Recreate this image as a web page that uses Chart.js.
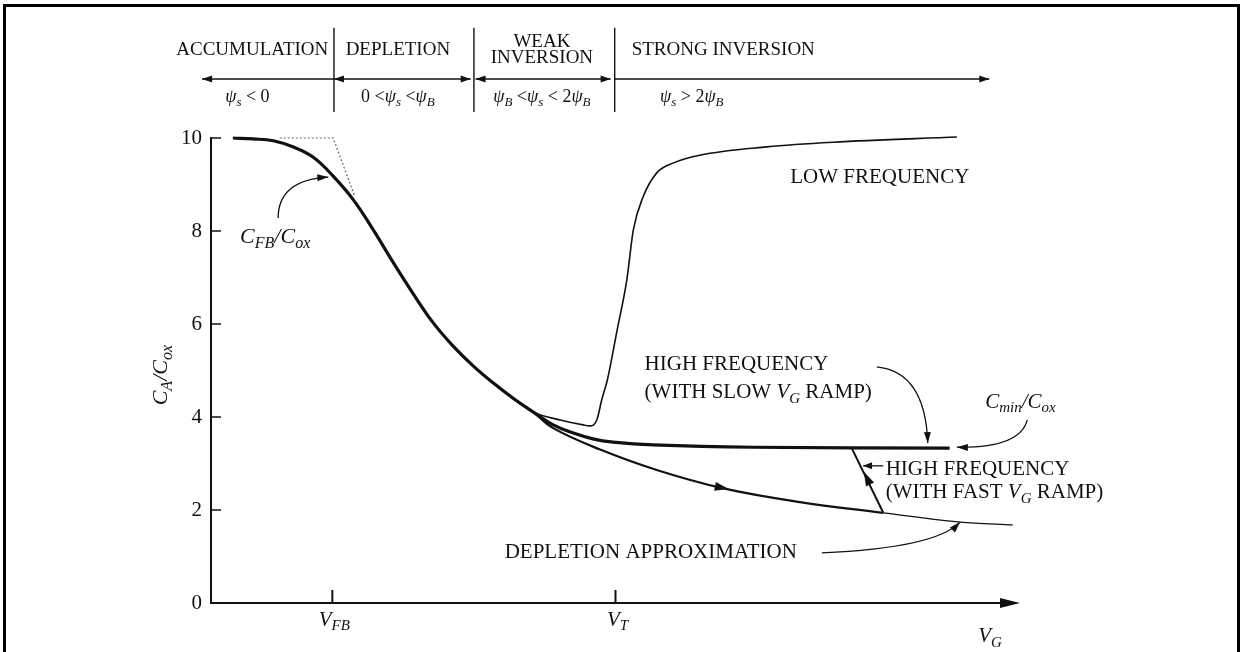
<!DOCTYPE html>
<html>
<head>
<meta charset="utf-8">
<script src="https://cdn.jsdelivr.net/npm/chart.js@4"></script>
<style>
  body { margin: 0; background: #fff; }
  #frame { position: absolute; left: 3px; top: 4px; width: 1237px; height: 700px; border: 3px solid #000; border-bottom: none; box-sizing: border-box; }
  canvas { position: absolute; left: 0; top: 0; }
</style>
</head>
<body>
<div id="frame"></div>
<canvas id="cv" width="1242" height="652"></canvas>
<script>
// Curve values (x in arbitrary V_G units, y = C/Cox)
const mainX = [0.27, 0.52, 0.77, 1.01, 1.26, 1.51, 1.76, 2.0, 2.25, 2.5, 2.74, 2.99, 3.24, 3.49, 3.73, 3.98, 4.23, 4.47, 4.72, 4.97, 5.46, 6.7, 9.13];
const mainY = [10.0, 9.98, 9.94, 9.81, 9.59, 9.18, 8.67, 8.04, 7.33, 6.65, 6.04, 5.53, 5.10, 4.73, 4.41, 4.11, 3.83, 3.66, 3.53, 3.46, 3.40, 3.35, 3.33];
const lowX = [3.49, 3.73, 3.98, 4.33, 4.60, 4.68, 4.77, 4.83, 4.90, 5.02, 5.14, 5.22, 5.34, 5.51, 5.71, 6.04, 6.87, 7.69, 9.22];
const lowY = [4.73, 4.41, 4.11, 3.93, 3.83, 3.81, 3.94, 4.37, 4.80, 5.87, 6.95, 8.02, 8.73, 9.25, 9.46, 9.63, 9.81, 9.91, 10.02];
const deepX = [3.49, 3.73, 3.98, 4.23, 4.81, 5.51, 6.32, 7.28, 8.31];
const deepY = [4.73, 4.41, 4.11, 3.76, 3.30, 2.86, 2.47, 2.17, 1.94];
const approxX = [8.31, 9.26, 9.91];
const approxY = [1.94, 1.74, 1.68];
const flatX = [0.85, 1.51, 1.78];
const flatY = [10.0, 10.0, 8.73];
const fastX = [7.92, 8.31];
const fastY = [3.33, 1.94];
const yTicks = [0, 2, 4, 6, 8, 10];
const vFB = 1.5, vT = 5.0;
const regionEdges = [1.52, 3.25, 4.99];

const zip = (xs, ys) => xs.map((x, i) => ({ x: x, y: ys[i] }));
const INK = '#111';
const SERIF = '"Liberation Serif", "DejaVu Serif", serif';

// text with italic / subscript parts
function rich(ctx, parts, x, y, size, align) {
  const fontFor = k => (k[0] === 'i' ? 'italic ' : '') + (k.endsWith('sub') ? Math.round(size * 0.72) : size) + 'px ' + SERIF;
  let w = 0;
  parts.forEach(p => { ctx.font = fontFor(p[1]); w += ctx.measureText(p[0]).width; });
  let cx = align === 'center' ? x - w / 2 : (align === 'right' ? x - w : x);
  ctx.textAlign = 'left';
  ctx.textBaseline = 'middle';
  parts.forEach(p => {
    ctx.font = fontFor(p[1]);
    ctx.fillText(p[0], cx, y + (p[1].endsWith('sub') ? size * 0.3 : 0));
    cx += ctx.measureText(p[0]).width;
  });
}

function head(ctx, x, y, ang, len, half) {
  ctx.beginPath();
  ctx.moveTo(x, y);
  ctx.lineTo(x - len * Math.cos(ang) + half * Math.sin(ang), y - len * Math.sin(ang) - half * Math.cos(ang));
  ctx.lineTo(x - len * Math.cos(ang) - half * Math.sin(ang), y - len * Math.sin(ang) + half * Math.cos(ang));
  ctx.closePath();
  ctx.fill();
}

const decor = {
  id: 'decor',
  afterDraw(chart) {
    const ctx = chart.ctx, xs = chart.scales.x, ys = chart.scales.y;
    const X = v => xs.getPixelForValue(v), Y = v => ys.getPixelForValue(v);
    ctx.save();
    ctx.fillStyle = INK;
    ctx.strokeStyle = INK;

    // x axis with arrow
    const y0 = Y(0);
    ctx.lineWidth = 2;
    ctx.beginPath(); ctx.moveTo(X(0), y0); ctx.lineTo(X(10) - 10, y0); ctx.stroke();
    head(ctx, X(10), y0, 0, 20, 5);
    [vFB, vT].forEach(v => { ctx.beginPath(); ctx.moveTo(X(v), y0); ctx.lineTo(X(v), y0 - 13); ctx.stroke(); });
    // inward y ticks
    ctx.lineWidth = 1.5;
    yTicks.slice(1).forEach(t => { ctx.beginPath(); ctx.moveTo(X(0), Y(t)); ctx.lineTo(X(0) + 10, Y(t)); ctx.stroke(); });

    rich(ctx, [['V', 'i'], ['FB', 'isub']], X(vFB) + 2, Y(-0.37), 21, 'center');
    rich(ctx, [['V', 'i'], ['T', 'isub']], X(vT) + 2, Y(-0.37), 21, 'center');
    rich(ctx, [['V', 'i'], ['G', 'isub']], X(9.63), Y(-0.73), 21, 'center');

    // y title
    ctx.save();
    ctx.translate(X(-0.61), Y(4.9));
    ctx.rotate(-Math.PI / 2);
    rich(ctx, [['C', 'i'], ['A', 'isub'], ['/C', 'i'], ['ox', 'isub']], 0, 0, 22, 'center');
    ctx.restore();

    // region header
    ctx.lineWidth = 1.4;
    regionEdges.forEach(v => { ctx.beginPath(); ctx.moveTo(X(v), Y(12.37)); ctx.lineTo(X(v), Y(10.56)); ctx.stroke(); });
    const ya = Y(11.27);
    const seg = (a, b, left, right) => {
      ctx.beginPath(); ctx.moveTo(X(a), ya); ctx.lineTo(X(b), ya); ctx.stroke();
      if (left) head(ctx, X(a), ya, Math.PI, 10, 3.5);
      if (right) head(ctx, X(b), ya, 0, 10, 3.5);
    };
    seg(-0.11, 1.52, true, false);
    seg(1.52, 3.21, true, true);
    seg(3.27, 4.94, true, true);
    seg(4.99, 9.62, false, true);
    const hs = 19;
    rich(ctx, [['ACCUMULATION', 'r']], X(0.51), Y(11.89), hs, 'center');
    rich(ctx, [['DEPLETION', 'r']], X(2.31), Y(11.89), hs, 'center');
    rich(ctx, [['WEAK', 'r']], X(4.09), Y(12.06), hs, 'center');
    rich(ctx, [['INVERSION', 'r']], X(4.09), Y(11.72), hs, 'center');
    rich(ctx, [['STRONG INVERSION', 'r']], X(5.2), Y(11.89), hs, 'left');
    const ps = 18;
    rich(ctx, [['ψ', 'i'], ['s', 'isub'], [' < 0', 'r']], X(0.45), Y(10.88), ps, 'center');
    rich(ctx, [['0 <', 'r'], ['ψ', 'i'], ['s', 'isub'], [' <', 'r'], ['ψ', 'i'], ['B', 'isub']], X(2.31), Y(10.88), ps, 'center');
    rich(ctx, [['ψ', 'i'], ['B', 'isub'], [' <', 'r'], ['ψ', 'i'], ['s', 'isub'], [' < 2', 'r'], ['ψ', 'i'], ['B', 'isub']], X(4.09), Y(10.88), ps, 'center');
    rich(ctx, [['ψ', 'i'], ['s', 'isub'], [' > 2', 'r'], ['ψ', 'i'], ['B', 'isub']], X(5.55), Y(10.88), ps, 'left');

    // plot labels
    const ls = 21;
    rich(ctx, [['LOW FREQUENCY', 'r']], X(7.16), Y(9.16), ls, 'left');
    rich(ctx, [['HIGH FREQUENCY', 'r']], X(5.36), Y(5.12), ls, 'left');
    rich(ctx, [['(WITH SLOW ', 'r'], ['V', 'i'], ['G', 'isub'], [' RAMP)', 'r']], X(5.36), Y(4.52), ls, 'left');
    rich(ctx, [['C', 'i'], ['min', 'isub'], ['/C', 'i'], ['ox', 'isub']], X(9.57), Y(4.32), ls, 'left');
    rich(ctx, [['HIGH FREQUENCY', 'r']], X(8.34), Y(2.88), ls, 'left');
    rich(ctx, [['(WITH FAST ', 'r'], ['V', 'i'], ['G', 'isub'], [' RAMP)', 'r']], X(8.34), Y(2.37), ls, 'left');
    rich(ctx, [['DEPLETION APPROXIMATION', 'r']], X(3.63), Y(1.08), ls, 'left');
    rich(ctx, [['C', 'i'], ['FB', 'isub'], ['/C', 'i'], ['ox', 'isub']], X(0.36), Y(7.87), 22, 'left');

    // curved pointer arrows [start, control, end]
    const pointers = [
      [[0.83, 8.28], [0.83, 9.10], [1.45, 9.16]],
      [[8.23, 5.08], [8.83, 4.97], [8.86, 3.44]],
      [[10.09, 3.94], [10.0, 3.33], [9.22, 3.35]],
      [[7.55, 1.08], [8.95, 1.18], [9.26, 1.74]]
    ];
    ctx.lineWidth = 1.3;
    pointers.forEach(p => {
      const s = [X(p[0][0]), Y(p[0][1])], c = [X(p[1][0]), Y(p[1][1])], e = [X(p[2][0]), Y(p[2][1])];
      ctx.beginPath(); ctx.moveTo(s[0], s[1]); ctx.quadraticCurveTo(c[0], c[1], e[0], e[1]); ctx.stroke();
      head(ctx, e[0], e[1], Math.atan2(e[1] - c[1], e[0] - c[0]), 11, 3.5);
    });
    // short straight pointer for fast ramp label
    ctx.beginPath(); ctx.moveTo(X(8.31), Y(2.95)); ctx.lineTo(X(8.06), Y(2.95)); ctx.stroke();
    head(ctx, X(8.06), Y(2.95), Math.PI, 9, 3.5);

    // direction arrows on curves
    const alongDeep = Math.atan2(Y(2.40) - Y(2.52), X(6.5) - X(6.15));
    head(ctx, X(6.40), Y(2.45), alongDeep, 14, 4.5);
    const upFast = Math.atan2(Y(fastY[0]) - Y(fastY[1]), X(fastX[0]) - X(fastX[1]));
    head(ctx, X(8.07), Y(2.82), upFast, 14, 4.5);
    ctx.restore();
  }
};

new Chart(document.getElementById('cv'), {
  type: 'line',
  data: {
    datasets: [
      { data: zip(mainX, mainY), borderColor: INK, borderWidth: 3.2, tension: 0.4 },
      { data: zip(lowX, lowY), borderColor: INK, borderWidth: 1.6, cubicInterpolationMode: 'monotone' },
      { data: zip(deepX, deepY), borderColor: INK, borderWidth: 2.2, tension: 0.4 },
      { data: zip(approxX, approxY), borderColor: INK, borderWidth: 1.2, cubicInterpolationMode: 'monotone' },
      { data: zip(flatX, flatY), borderColor: '#666', borderWidth: 1.2, borderDash: [2, 2], tension: 0 },
      { data: zip(fastX, fastY), borderColor: INK, borderWidth: 2, tension: 0 }
    ]
  },
  options: {
    responsive: false,
    animation: false,
    devicePixelRatio: 1,
    layout: { padding: { left: 183, right: 222, top: 138, bottom: 49 } },
    elements: { point: { radius: 0 }, line: { capBezierPoints: true } },
    datasets: { line: { clip: false } },
    plugins: { legend: { display: false }, tooltip: { enabled: false } },
    scales: {
      x: { type: 'linear', min: 0, max: 10, display: false },
      y: {
        min: 0, max: 10,
        afterFit: s => { s.width = 28; },
        ticks: { stepSize: 2, color: INK, padding: 9, font: { family: SERIF, size: 21 } },
        grid: { drawOnChartArea: false, drawTicks: false },
        border: { color: INK, width: 2 }
      }
    }
  },
  plugins: [decor]
});
</script>
</body>
</html>
